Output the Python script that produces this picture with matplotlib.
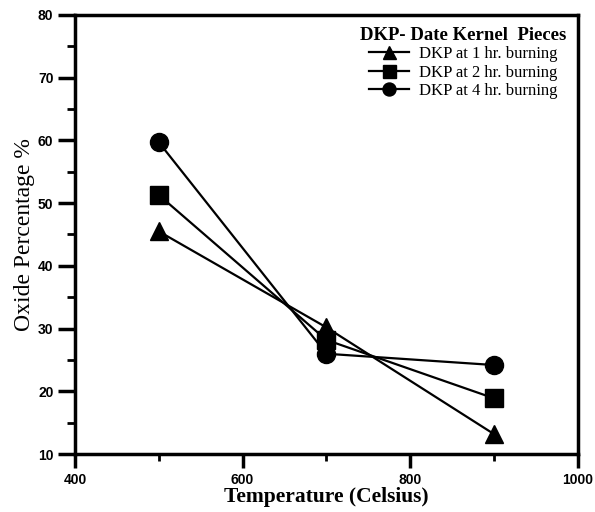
import matplotlib
matplotlib.use('Agg')
import matplotlib.pyplot as plt

temps = [500, 700, 900]
hr1 = [45.5, 30.2, 13.2]
hr2 = [51.3, 28.2, 18.9]
hr4 = [59.7, 26, 24.2]
labels = ['DKP at 1 hr. burning', 'DKP at 2 hr. burning', 'DKP at 4 hr. burning']

fig = plt.figure(figsize=(5.95, 5.12), dpi=100)
ax = fig.add_axes([0.126, 0.113, 0.845, 0.858])

ax.plot(temps, hr1, 'k-^', lw=1.6, ms=13, label=labels[0])
ax.plot(temps, hr2, 'k-s', lw=1.6, ms=13, label=labels[1])
ax.plot(temps, hr4, 'k-o', lw=1.6, ms=13, label=labels[2])

ax.set_xlim(400, 1000)
ax.set_ylim(10, 80)
ax.set_xticks([400, 600, 800, 1000])
ax.set_xticks([500, 700, 900], minor=True)
ax.set_yticks(range(10, 81, 10))
ax.set_yticks(range(15, 80, 10), minor=True)
ax.tick_params(axis='x', which='major', direction='out', length=10, width=2.5)
ax.tick_params(axis='x', which='minor', direction='out', length=5, width=2)
ax.tick_params(axis='y', which='major', direction='out', length=12, width=2.5)
ax.tick_params(axis='y', which='minor', direction='out', length=6, width=2)
for lab in ax.get_xticklabels() + ax.get_yticklabels():
    lab.set_fontfamily('Liberation Sans')
    lab.set_fontweight('bold')
    lab.set_fontsize(10)
for s in ax.spines.values():
    s.set_linewidth(2.5)

ax.set_xlabel('Temperature (Celsius)', family='Liberation Serif', fontsize=15.5,
              fontweight='bold', labelpad=0)
ax.set_ylabel('Oxide Percentage %', family='Liberation Serif', fontsize=17, labelpad=2)

leg = ax.legend(loc='upper right', frameon=False, prop={'family': 'Liberation Serif', 'size': 12},
                title='DKP- Date Kernel  Pieces', handlelength=2.4, labelspacing=0.15,
                borderaxespad=0.3, markerscale=0.72, handletextpad=0.6)
leg.get_title().set_fontfamily('Liberation Serif')
leg.get_title().set_fontweight('bold')
leg.get_title().set_fontsize(13.5)

fig.savefig('out.png', dpi=100)
